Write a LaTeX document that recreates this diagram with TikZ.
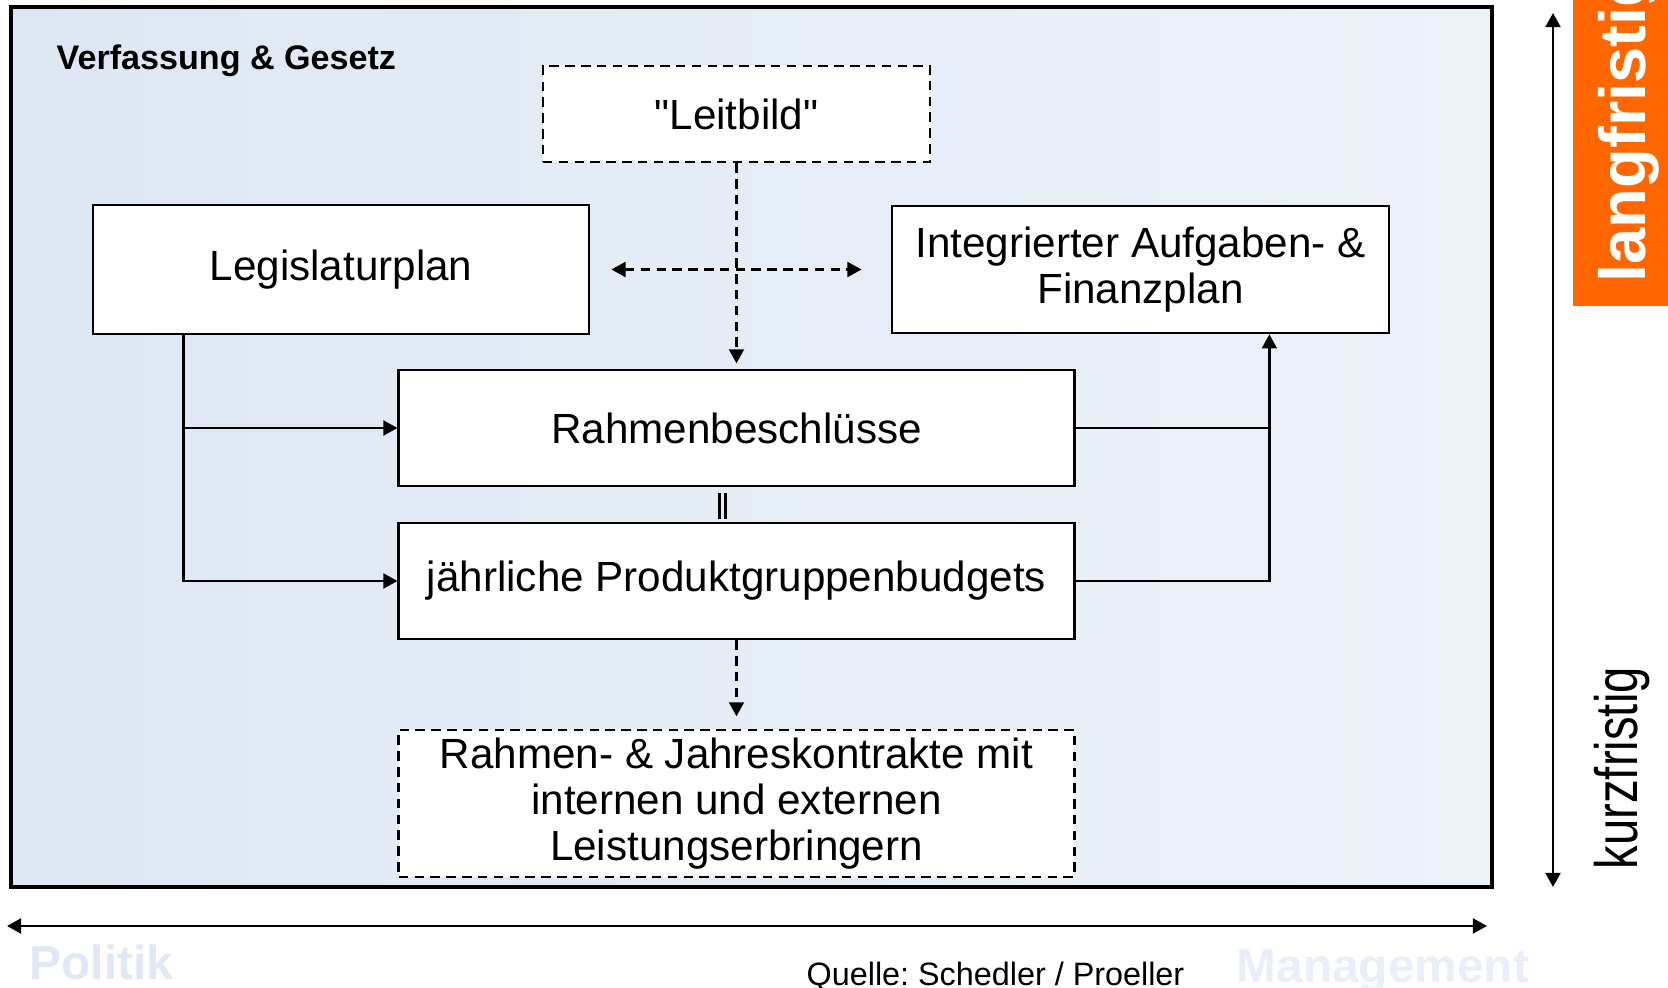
\documentclass[tikz,border=0pt]{standalone}
\usepackage{fontspec}
\setmainfont{Liberation Sans}[Ligatures=TeXOff]
\usepackage{graphicx}
\usetikzlibrary{arrows.meta,calc}
\definecolor{frameL}{RGB}{221,231,243}
\definecolor{frameR}{RGB}{237,242,249}
\definecolor{ghostL}{RGB}{224,232,245}
\definecolor{ghostR}{RGB}{233,238,249}
\definecolor{orng}{RGB}{255,102,0}
\begin{document}
\begin{tikzpicture}[x=0.01cm,y=-0.01cm,
  tip/.style={-{Triangle[length=4pt,width=4.2pt]}},
  dtip/.style={{Triangle[length=4pt,width=4.2pt]}-{Triangle[length=4pt,width=4.2pt]}},
  conn/.style={line width=0.75pt},
  dsh/.style={dash pattern=on 2.7pt off 1.8pt},
  box/.style={draw, line width=0.75pt, fill=white, inner sep=0pt, align=center,
    font=\fontsize{12}{12.9}\selectfont},
  dbox/.style={box, dsh},
  lbl/.style={inner sep=0pt, anchor=base west}
]
\useasboundingbox (0,0) rectangle (1668,988);
\begin{scope}
\clip (0,0) rectangle (1668,988);

% frame
\draw[line width=0.9pt, left color=frameL, right color=frameR] (11,7) rectangle (1492,887);

% orange tag
\fill[orng] (1573,0) rectangle (1668,306);
\node[lbl, rotate=90, text=white, font=\bfseries\fontsize{18.5}{20}\selectfont] (lang) at (1645,283) {langfristig};
\node[lbl, rotate=90, font=\fontsize{17}{18}\selectfont] (kurz) at (1637,870) {\scalebox{0.79}[1]{kurzfristig}};

% title
\node[lbl, font=\bfseries\fontsize{9.7}{11}\selectfont] (vg) at (56,70) {Verfassung \& Gesetz};

% boxes
\node[dbox, minimum width=3.87cm, minimum height=0.96cm] (leit) at (736.5,114) {"Leitbild"};
\node[box, minimum width=4.96cm, minimum height=1.29cm] (leg) at (341,269.5) {Legislaturplan};
\node[box, minimum width=4.97cm, minimum height=1.27cm] (iafp) at (1140.5,269.5) {Integrierter Aufgaben- \&\\Finanzplan};
\node[box, minimum width=6.75cm, minimum height=1.16cm] (rb) at (736.5,428) {Rahmenbeschlüsse};
\node[box, minimum width=6.75cm, minimum height=1.16cm] (pgb) at (736.5,581) {jährliche Produktgruppenbudgets};
\node[dbox, minimum width=6.75cm, minimum height=1.47cm, font=\fontsize{12}{13.1}\selectfont] (kon) at (736.5,803.5) {Rahmen- \& Jahreskontrakte mit\\internen und externen\\Leistungserbringern};

% double bar
\draw[line width=0.7pt] ([xshift=-0.17cm,yshift=-0.06cm]rb.south) -- ([xshift=-0.17cm,yshift=0.03cm]pgb.north);
\draw[line width=0.7pt] ([xshift=-0.11cm,yshift=-0.06cm]rb.south) -- ([xshift=-0.11cm,yshift=0.03cm]pgb.north);

% connectors
\draw[conn, dsh, tip, shorten >=1.5pt] (leit.south) -- (rb.north);
\draw[conn, dsh, dtip] ([xshift=0.21cm]leg.east) -- ([xshift=-0.29cm]iafp.west);
\coordinate (ltap) at ([xshift=0.92cm]leg.south west);
\draw[conn, tip] (ltap) |- (pgb.west);
\draw[conn, tip] (ltap |- rb.west) -- (rb.west);
\coordinate (rtap) at ([xshift=-1.21cm]iafp.south east);
\draw[conn, tip] (pgb.east) -| (rtap);
\draw[conn] (rb.east) -- (rb.east -| rtap);
\draw[conn, dsh, tip, shorten >=3.5pt] (pgb.south) -- (kon.north);

% axes
\coordinate (hL) at (7,926);
\coordinate (hR) at (1487,926);
\draw[dtip, line width=0.8pt] (hL) -- (hR);
\coordinate (vT) at (1553,13);
\coordinate (vB) at (1553,887);
\draw[dtip, line width=0.8pt] (vT) -- (vB);

% bottom labels
\node[lbl, text=ghostL, font=\bfseries\fontsize{13.6}{15}\selectfont] (pol) at (29,980) {Politik};
\node[lbl, text=ghostR, font=\bfseries\fontsize{13.6}{15}\selectfont] (mgmt) at (1236,982) {Management};
\node[lbl, font=\frenchspacing\fontsize{9.2}{10}\selectfont] (src) at (806,985) {Quelle: Schedler / Proeller};
\end{scope}
\end{tikzpicture}
\end{document}
